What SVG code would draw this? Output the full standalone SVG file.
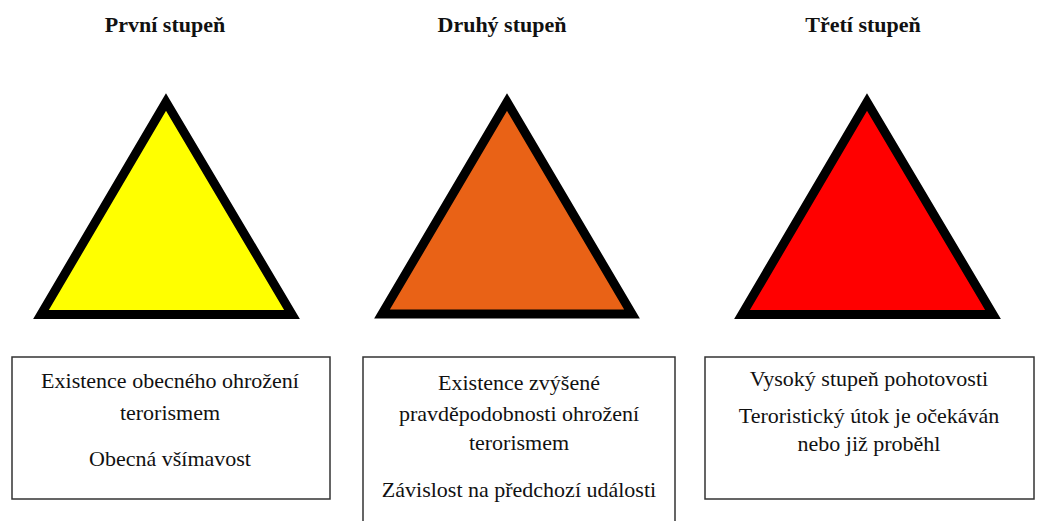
<svg xmlns="http://www.w3.org/2000/svg" width="1037" height="521" viewBox="0 0 1037 521">
<style>
.title{font-family:"Liberation Serif","Times New Roman",serif;font-weight:bold;font-size:22px;fill:#111;text-anchor:middle}
.t{font-family:"Liberation Serif","Times New Roman",serif;font-size:22px;fill:#111;text-anchor:middle}
.tri{stroke:#000;stroke-width:9;stroke-linejoin:miter}
.box{fill:#fff;stroke:#333;stroke-width:1.5}
</style>
<rect width="1037" height="521" fill="#fff"/>
<g id="level1">
<text class="title" x="165" y="32">První stupeň</text>
<polygon class="tri" fill="#ffff00" points="166,102 41,314.5 292,314.5"/>
</g>
<g id="level2">
<text class="title" x="502" y="32">Druhý stupeň</text>
<polygon class="tri" fill="#e96216" points="507,102 382,314 632,314"/>
</g>
<g id="level3">
<text class="title" x="863" y="32">Třetí stupeň</text>
<polygon class="tri" fill="#ff0000" points="867,102 742,314.5 993,314.5"/>
</g>
<g id="box1">
<rect class="box" x="12" y="357" width="318" height="142"/>
<text class="t" x="170" y="388">Existence obecného ohrožení</text>
<text class="t" x="170" y="420">terorismem</text>
<text class="t" x="170" y="466">Obecná všímavost</text>
</g>
<g id="box2">
<path class="box" d="M363,522 V357 H675 V522"/>
<text class="t" x="519" y="390">Existence zvýšené</text>
<text class="t" x="519" y="421">pravděpodobnosti ohrožení</text>
<text class="t" x="519" y="450">terorismem</text>
<text class="t" x="519" y="497">Závislost na předchozí události</text>
</g>
<g id="box3">
<rect class="box" x="705" y="357" width="329" height="142"/>
<text class="t" x="869" y="386">Vysoký stupeň pohotovosti</text>
<text class="t" x="869" y="423">Teroristický útok je očekáván</text>
<text class="t" x="869" y="451">nebo již proběhl</text>
</g>
<g id="connectors"/>
</svg>
